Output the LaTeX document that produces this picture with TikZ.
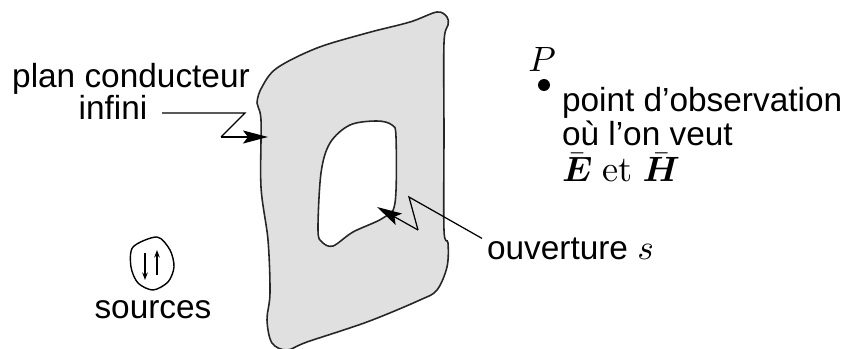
\documentclass[tikz,border=0pt]{standalone}
\usepackage{amsmath}
\usepackage{fontspec}
\setsansfont{Liberation Sans}
\usetikzlibrary{arrows.meta}
\tikzset{
  lab/.style={font=\fontsize{9.5}{9.6}\selectfont\sffamily,inner sep=0pt,outer sep=0pt},
  biglab/.style={font=\fontsize{10.3}{11}\selectfont\sffamily,inner sep=0pt,outer sep=0pt},
  plate/.style={draw=black!85,fill=black!12,even odd rule,line width=0.45pt},
  leader/.style={line width=0.35pt},
  bigtip/.style={-{Stealth[length=0.25cm,width=0.13cm,inset=0.05cm]}},
  smalltip/.style={-{Stealth[length=0.075cm,width=0.055cm]}}
}
\begin{document}
\begin{tikzpicture}
\useasboundingbox (0,0) rectangle (8.42,3.49);
\draw[plate] plot[smooth cycle,tension=0.55] coordinates {(4.37,3.37) (4.47,3.32) (4.48,3.24) (4.44,3.06) (4.44,2.16) (4.44,1.19) (4.48,1.06) (4.47,0.82) (4.37,0.59) (4.20,0.49) (3.67,0.27) (3.07,0.07) (2.87,-0.01) (2.72,0.06) (2.67,0.29) (2.70,0.56) (2.68,1.09) (2.61,1.62) (2.61,2.29) (2.57,2.46) (2.62,2.62) (2.77,2.81) (3.17,3.01) (3.67,3.16) (4.10,3.27)}
plot[smooth cycle,tension=0.55] coordinates {(3.77,2.28) (3.92,2.24) (3.96,2.12) (3.95,1.46) (3.83,1.31) (3.53,1.17) (3.33,1.03) (3.22,1.07) (3.18,1.19) (3.21,1.76) (3.30,2.06) (3.50,2.24)};
\node[lab,anchor=base] (plan) at (1.31,2.61) {plan conducteur};
\node[lab,anchor=base,inner xsep=4.2pt] (infini) at (1.13,2.29) {infini};
\coordinate (planbend) at (2.45,2.36);
\coordinate (planback) at (2.21,2.12);
\coordinate (plantip) at (2.68,2.12);
\draw[leader] (infini.east |- planbend) -- (planbend) -- (planback);
\draw[leader,bigtip] (planback) -- (plantip);
\node[lab,anchor=base west,inner xsep=0.05cm] (ouverture) at (4.82,0.89) {ouverture {\fontsize{10.3}{11}\selectfont$s$}};
\coordinate (holebend) at (4.09,1.52);
\coordinate (holeback) at (4.18,1.19);
\coordinate (holetip) at (3.77,1.42);
\draw[leader] (ouverture.north west) -- (holebend) -- (holeback);
\draw[leader,bigtip] (holeback) -- (holetip);
\draw[line width=0.4pt] plot[smooth cycle] coordinates {(1.57,1.12) (1.70,0.99) (1.74,0.82) (1.68,0.67) (1.53,0.59) (1.38,0.66) (1.31,0.82) (1.33,1.02)};
\draw[line width=0.4pt,smalltip] (1.45,0.96) -- (1.45,0.69);
\draw[line width=0.4pt,smalltip] (1.57,0.74) -- (1.57,0.99);
\node[lab,anchor=base] (sources) at (1.53,0.31) {sources};
\node[biglab,anchor=base] (P) at (5.42,2.77) {$P$};
\node[circle,fill=black,inner sep=0pt,minimum size=0.12cm] (obs) at (5.44,2.64) {};
\node[lab,anchor=base west] (pointobs) at (5.62,2.37) {point d’observation};
\node[lab,anchor=base west] (onveut) at (5.62,2.04) {où l’on veut};
\node[biglab,anchor=base west] (champs) at (5.62,1.67) {$\bar{\boldsymbol{E}}$ {\rmfamily et} $\bar{\boldsymbol{H}}$};
\end{tikzpicture}
\end{document}
